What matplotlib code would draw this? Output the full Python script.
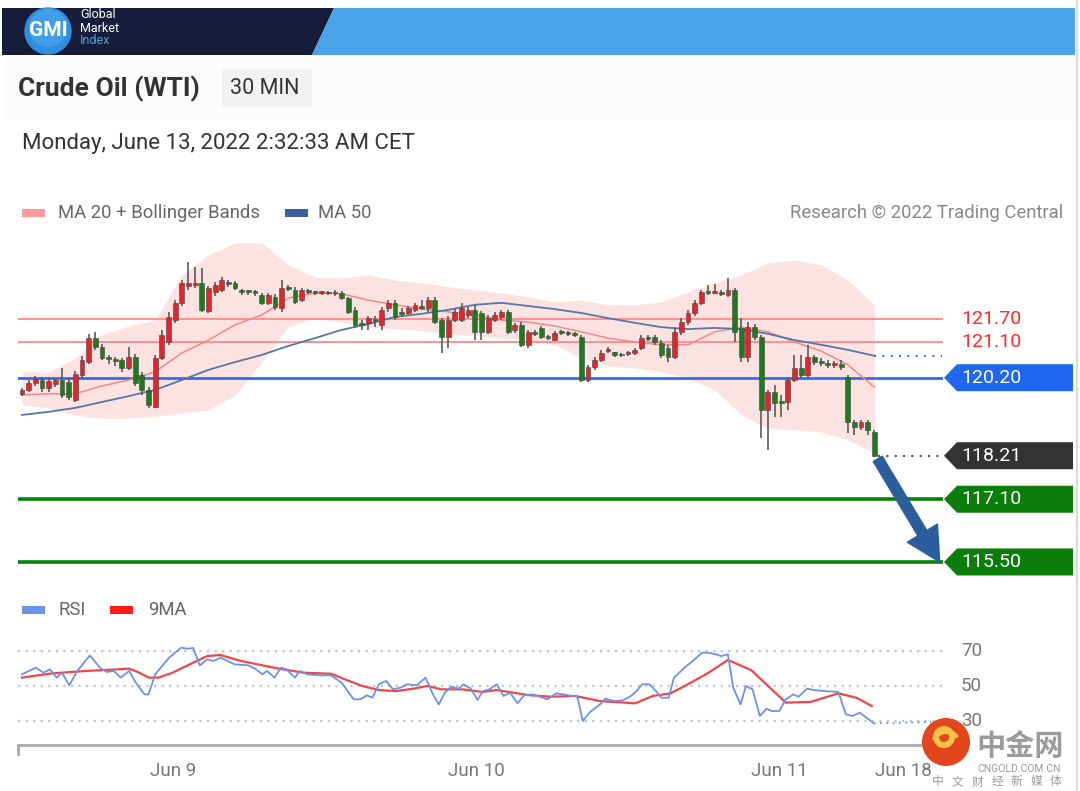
#Crude Oil (WTI) 30 min - Trading Central chart

import numpy as np
import matplotlib
matplotlib.use('Agg')
import matplotlib.pyplot as plt
from matplotlib.patches import Polygon, Rectangle, Circle, Wedge
import matplotlib.transforms as mtransforms

plt.rcParams['font.family'] = ['Roboto', 'DejaVu Sans']

#Velas (open, high, low, close)
c_open = [119.79, 119.89, 120.07, 120.14, 119.94, 120.04, 120.14, 120.09, 119.63, 120.27,
          120.60, 121.21, 120.98, 120.73, 120.68, 120.65, 120.45, 120.73, 120.27, 119.89,
          119.45, 120.70, 121.11, 121.67, 122.11, 122.54, 122.57, 122.62, 121.90, 122.39,
          122.44, 122.64, 122.62, 122.41, 122.39, 122.39, 122.31, 122.11, 122.26, 121.98,
          122.49, 122.44, 122.18, 122.41, 122.38, 122.36, 122.37, 122.35, 122.36, 122.23,
          121.93, 121.57, 121.60, 121.67, 121.55, 121.98, 122.11, 121.85, 121.85, 121.93,
          122.01, 121.98, 122.18, 121.67, 121.24, 121.67, 121.67, 121.80, 121.93, 121.85,
          121.37, 121.67, 121.75, 121.88, 121.42, 121.55, 121.04, 121.34, 121.47, 121.24,
          121.16, 121.37, 121.34, 121.32, 121.24, 120.14, 120.47, 120.65, 120.88, 120.86,
          120.79, 120.81, 120.83, 120.96, 121.21, 121.24, 121.09, 120.96, 120.73, 121.37,
          121.62, 121.85, 122.11, 122.39, 122.36, 122.36, 122.31, 122.44, 121.47, 120.73,
          121.50, 121.24, 119.38, 119.84, 119.58, 119.58, 120.14, 120.45, 120.27, 120.73,
          120.60, 120.55, 120.53, 120.55, 120.22, 119.07, 118.94, 119.07, 118.82]
c_high = [119.94, 120.14, 120.25, 120.22, 120.19, 120.19, 120.45, 120.19, 120.37, 120.76,
          121.32, 121.37, 121.06, 120.78, 120.73, 120.70, 120.98, 120.81, 120.35, 119.96,
          120.78, 121.42, 121.88, 122.18, 122.69, 123.15, 123.03, 123.00, 122.54, 122.64,
          122.77, 122.69, 122.67, 122.46, 122.44, 122.44, 122.36, 122.36, 122.34, 122.69,
          122.57, 122.52, 122.49, 122.46, 122.41, 122.42, 122.41, 122.44, 122.41, 122.26,
          122.01, 121.67, 121.78, 121.78, 122.01, 122.18, 122.18, 121.98, 122.03, 122.11,
          122.18, 122.26, 122.26, 121.72, 121.78, 121.95, 122.11, 122.01, 122.06, 121.90,
          121.80, 121.88, 121.93, 121.93, 121.60, 121.62, 121.42, 121.42, 121.52, 121.29,
          121.39, 121.42, 121.39, 121.37, 121.29, 120.53, 120.73, 120.91, 120.98, 120.86,
          120.84, 120.88, 120.96, 121.29, 121.29, 121.29, 121.16, 121.04, 121.47, 121.72,
          121.93, 122.18, 122.44, 122.57, 122.59, 122.44, 122.74, 122.49, 121.72, 121.62,
          121.57, 121.29, 119.89, 120.02, 119.76, 120.19, 120.78, 120.78, 121.04, 120.78,
          120.70, 120.65, 120.63, 120.65, 120.27, 119.12, 119.12, 119.12, 118.87]
c_low = [119.74, 119.84, 119.99, 119.84, 119.84, 119.96, 119.68, 119.63, 119.58, 120.19,
         120.55, 120.91, 120.65, 120.55, 120.50, 120.35, 120.40, 119.99, 119.76, 119.43,
         119.43, 120.65, 121.04, 121.60, 122.03, 122.44, 122.49, 121.88, 121.85, 122.29,
         122.39, 122.52, 122.44, 122.31, 122.31, 122.29, 122.06, 122.06, 121.93, 121.88,
         122.41, 122.08, 122.13, 122.34, 122.31, 122.31, 122.30, 122.29, 122.18, 121.83,
         121.47, 121.42, 121.42, 121.50, 121.42, 121.88, 121.67, 121.75, 121.80, 121.88,
         121.93, 121.88, 121.57, 120.83, 120.96, 121.62, 121.62, 121.72, 121.16, 121.16,
         121.32, 121.62, 121.67, 121.32, 121.34, 120.98, 120.96, 121.27, 121.19, 121.16,
         121.14, 121.29, 121.27, 121.24, 120.09, 120.09, 120.40, 120.60, 120.83, 120.73,
         120.72, 120.76, 120.79, 120.91, 121.14, 121.04, 120.70, 120.60, 120.68, 121.29,
         121.55, 121.78, 122.06, 122.31, 122.34, 122.29, 122.26, 121.11, 120.60, 120.60,
         121.16, 118.66, 118.36, 119.20, 119.20, 119.38, 120.09, 120.19, 120.19, 120.53,
         120.50, 120.45, 120.45, 120.40, 118.79, 118.74, 118.87, 118.74, 118.18]
c_close = [119.89, 120.07, 120.17, 119.94, 120.12, 120.14, 119.76, 119.71, 120.30, 120.65,
           121.21, 120.98, 120.70, 120.68, 120.63, 120.45, 120.73, 120.07, 119.89, 119.50,
           120.70, 121.29, 121.75, 122.11, 122.62, 122.62, 122.62, 121.93, 122.49, 122.57,
           122.69, 122.59, 122.49, 122.39, 122.38, 122.36, 122.11, 122.31, 122.01, 122.49,
           122.46, 122.13, 122.44, 122.39, 122.36, 122.37, 122.35, 122.36, 122.23, 121.88,
           121.55, 121.55, 121.72, 121.65, 121.93, 122.11, 121.75, 121.83, 121.98, 122.06,
           121.98, 122.18, 121.62, 121.24, 121.67, 121.88, 121.98, 121.93, 121.37, 121.37,
           121.72, 121.80, 121.88, 121.37, 121.55, 121.04, 121.37, 121.32, 121.24, 121.21,
           121.34, 121.34, 121.32, 121.29, 120.14, 120.47, 120.65, 120.83, 120.91, 120.78,
           120.77, 120.83, 120.91, 121.21, 121.19, 121.11, 120.78, 120.73, 121.37, 121.62,
           121.85, 122.11, 122.39, 122.36, 122.39, 122.34, 122.44, 121.37, 120.73, 121.50,
           121.24, 119.38, 119.84, 119.56, 119.56, 120.14, 120.45, 120.27, 120.73, 120.60,
           120.58, 120.53, 120.55, 120.47, 119.07, 118.94, 119.07, 118.87, 118.21]

#Medias y bandas, leidas cada 4 velas
ma_x = np.arange(0, 129, 4)
ma20 = [119.76, 119.79, 119.79, 119.99, 120.14, 120.35, 120.83, 121.16, 121.55, 121.80, 122.23,
        122.36, 122.34, 122.18, 122.06, 121.95, 121.88, 121.80, 121.67, 121.62, 121.52, 121.37,
        121.21, 121.11, 121.04, 121.04, 121.37, 121.49, 121.37, 121.11, 120.88, 120.53, 119.96]
ma50 = [119.25, 119.33, 119.43, 119.58, 119.73, 119.89, 120.14, 120.40, 120.60, 120.78, 121.01,
        121.21, 121.42, 121.57, 121.75, 121.83, 121.93, 122.06, 122.11, 122.03, 121.95, 121.85,
        121.72, 121.60, 121.49, 121.44, 121.47, 121.44, 121.32, 121.16, 121.04, 120.91, 120.76]
bb_up = [120.35, 120.35, 120.70, 121.30, 121.52, 121.67, 122.82, 123.33, 123.64, 123.64, 123.08,
         122.77, 122.74, 122.82, 122.69, 122.62, 122.52, 122.44, 122.36, 122.26, 122.13, 122.18,
         122.06, 122.06, 122.13, 122.39, 122.62, 122.82, 123.13, 123.20, 123.08, 122.69, 122.06]
bb_lo = [119.51, 119.43, 119.25, 119.17, 119.17, 119.22, 119.30, 119.38, 119.76, 120.60, 121.50,
         121.72, 121.62, 121.48, 121.45, 121.40, 121.32, 121.27, 121.21, 121.16, 121.04, 120.70,
         120.50, 120.45, 120.35, 120.19, 119.89, 119.25, 118.92, 118.87, 118.82, 118.61, 118.28]

#Niveles
res_levels = [121.70, 121.10]
pivot = 120.20
last_price = 118.21
sup_levels = [117.10, 115.50]

#RSI y su media de 9
rsi_x = [0, 2.1, 3.2, 4.2, 5.2, 6.0, 7.1, 8.3, 10.2, 11.7, 12.7, 13.8, 14.8, 16.1, 17.1, 18.4,
         19.0, 20.0, 22.1, 23.9, 24.9, 25.7, 26.7, 27.8, 28.8, 29.8, 30.9, 31.9, 34.0, 35.0,
         36.1, 36.8, 37.9, 38.9, 39.7, 41.0, 41.7, 42.8, 44.8, 46.4, 48.0, 49.8, 50.8, 51.8,
         52.6, 53.6, 54.7, 55.7, 56.8, 57.8, 59.3, 60.6, 61.7, 62.6, 63.5, 64.5, 65.6, 66.3,
         67.4, 68.4, 69.2, 70.2, 71.3, 72.3, 73.3, 74.4, 75.4, 76.7, 78.9, 80.2, 82.1, 83.4,
         84.2, 85.2, 86.8, 87.6, 88.9, 90.2, 91.3, 92.3, 93.1, 94.2, 95.2, 96.0, 97.1, 97.9,
         99.5, 101.0, 102.1, 103.1, 104.2, 105.0, 106.0, 106.8, 107.9, 108.7, 109.7, 110.8,
         111.8, 112.6, 113.7, 114.7, 115.8, 116.6, 117.9, 118.9, 120.5, 122.6, 123.7, 124.7,
         125.8, 126.8, 127.9]
rsi_v = [56.7, 60.5, 57.6, 59.5, 54.8, 57.6, 50.4, 58.6, 67.5, 60.5, 58.0, 58.6, 54.8, 58.6,
         51.9, 45.2, 45.2, 56.7, 66.2, 71.9, 71.3, 71.7, 61.8, 65.2, 64.3, 66.2, 64.3, 62.4,
         61.8, 59.9, 56.7, 58.6, 54.8, 60.5, 59.5, 54.8, 58.6, 56.7, 56.1, 56.1, 51.9, 42.4,
         42.4, 44.7, 43.3, 51.0, 52.9, 48.1, 49.0, 51.0, 50.4, 54.8, 45.2, 39.5, 46.2, 49.6,
         48.5, 51.0, 48.5, 42.0, 47.1, 48.1, 51.0, 44.3, 46.2, 40.1, 44.7, 45.2, 42.4, 45.8,
         44.7, 43.9, 30.0, 34.8, 39.5, 42.8, 41.4, 41.8, 43.9, 47.1, 51.0, 51.0, 47.1, 43.3,
         43.3, 54.8, 60.5, 65.2, 69.0, 69.0, 68.1, 67.1, 68.1, 49.0, 39.5, 50.0, 48.1, 32.9,
         37.0, 35.7, 35.7, 42.4, 45.2, 43.9, 48.5, 47.7, 47.1, 46.6, 33.8, 32.9, 34.8, 31.9, 28.7]
ma9_x = [0, 4.5, 9.6, 12.2, 14.3, 16.1, 17.4, 19.0, 20.5, 22.6, 25.2, 27.8, 29.8, 32.9, 36.1,
         39.2, 42.3, 46.4, 48.5, 51.1, 53.6, 56.2, 58.8, 60.9, 63.0, 66.1, 69.2, 71.3, 74.4,
         76.3, 79.4, 83.1, 86.8, 92.1, 94.7, 97.4, 100.0, 103.1, 106.0, 109.5, 114.7, 118.4,
         122.6, 125.3, 127.6]
ma9_v = [54.8, 57.2, 58.6, 59.1, 59.5, 59.9, 58.0, 54.8, 54.8, 57.6, 62.4, 67.1, 67.7, 64.3,
         61.8, 59.5, 57.6, 57.0, 53.8, 50.0, 47.7, 47.1, 48.5, 50.0, 48.1, 48.1, 46.6, 47.7,
         45.8, 44.7, 43.9, 44.3, 41.4, 40.1, 44.3, 45.8, 51.0, 57.6, 64.9, 59.1, 40.5, 40.9,
         45.8, 43.3, 38.6]
rsi_levels = [70, 50, 30]

tick_pos = [22.7, 68.3, 113.8, 132.4]
tick_lbl = ['Jun 9', 'Jun 10', 'Jun 11', 'Jun 18']

W, H = 1080, 791
fig = plt.figure(figsize=(W / 100, H / 100), dpi=100)
fig.patch.set_facecolor('white')

#Capa de fondo en pixeles
bg = fig.add_axes([0, 0, 1, 1])
bg.set_xlim(0, W)
bg.set_ylim(H, 0)
bg.axis('off')

bg.add_patch(Polygon([(2, 8), (334, 8), (312, 55), (2, 55)], closed=True, color='#161d3b', lw=0))
bg.add_patch(Polygon([(334, 8), (1075, 8), (1075, 55), (312, 55)], closed=True, color='#4aa3e6', lw=0))
bg.add_patch(Rectangle((2, 56), 1073, 64, color='#fcfcfc', lw=0))
bg.plot([1077, 1077], [0, H], color='#dcdcdc', lw=1.5)
bg.add_patch(Circle((48, 31), 23, color='#2f8ee0'))
bg.add_patch(Circle((48, 28), 19, color='#4fa9ee', alpha=0.6, lw=0))
bg.text(48, 31, 'GMI', color='white', fontsize=15, fontweight='bold', ha='center', va='center')
bg.text(80, 15, 'Global', color='white', fontsize=9, va='center')
bg.text(80, 28, 'Market', color='white', fontsize=9, va='center')
bg.text(80, 41, 'Index', color='#4aa3e6', fontsize=9, va='center')

bg.text(18, 89, 'Crude Oil (WTI)', color='#333333', fontsize=19, fontweight='bold', va='center')
bg.add_patch(Rectangle((222, 69), 90, 38, color='#f2f2f2', lw=0))
bg.text(230, 88, '30 MIN', color='#333333', fontsize=15.5, va='center')
bg.text(22, 144, 'Monday, June 13, 2022 2:32:33 AM CET', color='#333333', fontsize=16, va='center')

bg.add_patch(Rectangle((22, 209), 23, 8, color='#ff9a9a', lw=0))
bg.text(58, 213, 'MA 20 + Bollinger Bands', color='#666666', fontsize=13.3, va='center')
bg.add_patch(Rectangle((285, 209), 23, 8, color='#3d5f9f', lw=0))
bg.text(318, 213, 'MA 50', color='#666666', fontsize=13.3, va='center')
bg.text(1063, 213, 'Research \u00a9 2022 Trading Central', color='#888888', fontsize=13.3,
        va='center', ha='right')

bg.add_patch(Rectangle((22, 606), 23, 8, color='#6d92ea', lw=0))
bg.text(58, 610, 'RSI', color='#666666', fontsize=13.3, va='center')
bg.add_patch(Rectangle((110, 606), 23, 8, color='#ff1a1a', lw=0))
bg.text(148, 610, '9MA', color='#666666', fontsize=13.3, va='center')

#Grafico de precios
x0, x1 = 18, 943
ax = fig.add_axes([x0 / W, 1 - 580 / H, (x1 - x0) / W, (580 - 235) / H])
ax.set_xlim(-0.6, 138.3)
ax.set_ylim(115.04, 123.84)
ax.axis('off')
ax.patch.set_alpha(0)

ax.fill_between(ma_x, bb_lo, bb_up, color='#fde2e2', lw=0, zorder=1)
for lv in res_levels:
    ax.axhline(lv, color='#ff9090', lw=1.4, zorder=2)
ax.axhline(pivot, color='#2f6df0', lw=2, zorder=2)
for lv in sup_levels:
    ax.axhline(lv, color='#078407', lw=2.6, zorder=2)
ax.plot(ma_x, ma20, color='#f38888', lw=1.1, zorder=2.5)
ax.plot(ma_x, ma50, color='#5576aa', lw=1.3, zorder=2.5)

o = np.array(c_open)
c = np.array(c_close)
idx = np.arange(len(c))
cols = np.where(c >= o, '#e3242b', '#1f7a1f')
ax.vlines(idx, c_low, c_high, color='#5a5a5a', lw=1.2, zorder=3)
ax.bar(idx, np.maximum(np.abs(c - o), 0.045), bottom=np.minimum(o, c), width=0.72,
       color=cols, edgecolor='#444444', lw=0.4, zorder=4)

ax.hlines(ma50[-1], ma_x[-1], 138.2, color='#5576aa', lw=1.5, linestyles=(0, (1, 3)), zorder=2)
ax.hlines(last_price, idx[-1] + 0.6, 138.2, color='#555555', lw=1.5, linestyles=(0, (1, 3)), zorder=2)

trans = mtransforms.blended_transform_factory(ax.transAxes, ax.transData)
hh = 13.5 * (123.84 - 115.04) / (580 - 235)
xa, xb, xc = [(p - x0) / (x1 - x0) for p in (944, 957, 1073)]
xt = (961 - x0) / (x1 - x0)


def tag(level, color):
    ax.add_patch(Polygon([(xa, level), (xb, level + hh), (xc, level + hh), (xc, level - hh),
                          (xb, level - hh)], closed=True, transform=trans, color=color,
                         lw=0, clip_on=False))
    ax.text(xt, level, '%.2f' % level, transform=trans, color='white', fontsize=14,
            va='center', ha='left')


for lv in res_levels:
    ax.text(xt, lv, '%.2f' % lv, transform=trans, color='#ff2a2a', fontsize=14, va='center')
tag(pivot, '#1f66f2')
tag(last_price, '#333333')
for lv in sup_levels:
    tag(lv, '#0a7d0a')

ax.annotate('', xy=(137.8, sup_levels[-1]), xytext=(idx[-1] + 0.5, last_price - 0.08),
            arrowprops=dict(arrowstyle='simple,head_length=1.1,head_width=1.15,tail_width=0.34',
                            color='#2c5d9c', mutation_scale=22, shrinkA=0, shrinkB=0),
            annotation_clip=False, zorder=6)

#RSI
ax2 = fig.add_axes([x0 / W, 1 - 745 / H, (x1 - x0) / W, (745 - 630) / H])
ax2.set_xlim(-0.6, 138.3)
ax2.set_ylim(16.3, 82.0)
ax2.patch.set_alpha(0)
for s in ['top', 'right', 'left']:
    ax2.spines[s].set_visible(False)
ax2.spines['bottom'].set_color('#aaaaaa')
ax2.spines['bottom'].set_linewidth(2)
ax2.set_yticks([])
trans2 = mtransforms.blended_transform_factory(ax2.transAxes, ax2.transData)
for lv in rsi_levels:
    ax2.axhline(lv, color='#c4c4c4', lw=1.6, ls=(0, (1, 2.4)), zorder=1)
    ax2.text(xt, lv, str(lv), transform=trans2, color='#777777', fontsize=13.5, va='center')
ax2.plot(rsi_x, rsi_v, color='#6d92ea', lw=1.3, zorder=3)
ax2.plot(ma9_x, ma9_v, color='#f24545', lw=1.6, zorder=2)
ax2.plot([rsi_x[-1], 136.5], [rsi_v[-1], 29.5], color='#8aa8ee', lw=1.5, ls=(0, (1, 2)), zorder=3)
ax2.set_xticks(tick_pos)
ax2.set_xticklabels(tick_lbl, color='#777777', fontsize=13.5)
ax2.tick_params(axis='x', length=0, pad=12)
ax2.plot([0, 0], [0, -0.08], transform=ax2.transAxes, color='#aaaaaa', lw=2, clip_on=False)

#Marca de agua
fg = fig.add_axes([0, 0, 1, 1], zorder=10)
fg.set_xlim(0, W)
fg.set_ylim(H, 0)
fg.axis('off')
fg.patch.set_alpha(0)
fg.add_patch(Circle((946, 742), 24, color='#e2461c', lw=0))
fg.add_patch(Wedge((944, 737), 11, 0, 360, width=6, color='#f6c244', lw=0))
fg.add_patch(Wedge((946, 744), 15, 200, 330, width=5, color='#f6c244', lw=0))
cjk = ['Noto Sans CJK SC', 'DejaVu Sans']
fg.text(1020, 746, '中金网', color='#9c9c9c', fontsize=21, fontweight='bold', family=cjk,
        ha='center', va='center')
fg.text(1019, 769, 'CNGOLD.COM.CN', color='#9c9c9c', fontsize=7.5, ha='center', va='center')
for xp, ch in zip(np.linspace(938, 1056, 7), '中文财经新媒体'):
    fg.text(xp, 782, ch, color='#9c9c9c', fontsize=8.5, family=cjk, ha='center', va='center')

fig.savefig('out.png', dpi=100, facecolor='white')
